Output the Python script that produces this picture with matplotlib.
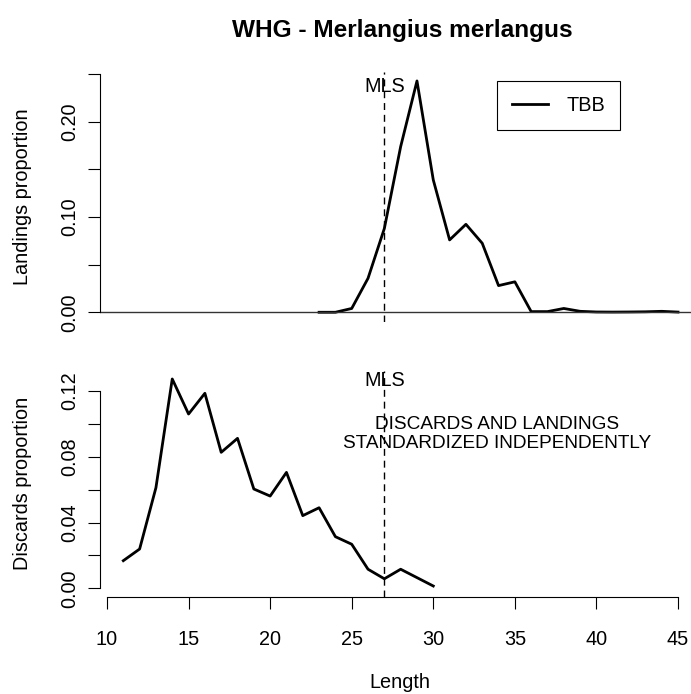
import matplotlib
matplotlib.use("Agg")
import matplotlib.pyplot as plt
import numpy as np

# ---- data ----
land_len = list(range(23, 46))
land_prop = [0.0, 0.0, 0.004, 0.0357, 0.088, 0.174, 0.243, 0.139, 0.076, 0.0924,
             0.0725, 0.028, 0.032, 0.0007, 0.0007, 0.004, 0.001, 0.0003, 0.0002,
             0.0003, 0.0005, 0.001, 0.0002]
disc_len = list(range(11, 31))
disc_prop = [0.0168, 0.0239, 0.0612, 0.1273, 0.106, 0.1186, 0.0827, 0.0912, 0.0604,
             0.0561, 0.0705, 0.0442, 0.049, 0.0314, 0.0268, 0.0116, 0.0058, 0.0116,
             0.0065, 0.0014]
mls = 27
top_ticks = [0.0, 0.05, 0.10, 0.15, 0.20, 0.25]
top_labels = ["0.00", "", "0.10", "", "0.20", ""]
bot_ticks = [0.0, 0.02, 0.04, 0.06, 0.08, 0.10, 0.12]
bot_labels = ["0.00", "", "0.04", "", "0.08", "", "0.12"]
x_ticks = [10, 15, 20, 25, 30, 35, 40, 45]
title = "WHG - Merlangius merlangus"
series_name = "TBB"
note = "DISCARDS AND LANDINGS\nSTANDARDIZED INDEPENDENTLY"

W, H = 691, 694
plt.rcParams['font.family'] = ['Liberation Sans', 'DejaVu Sans']
FS = 14.3
fig = plt.figure(figsize=(W / 100, H / 100), dpi=100)

def rect(l, t, r, b):
    return [l / W, 1 - b / H, (r - l) / W, (b - t) / H]

xlim = (10 - 7 / 16.33, 45 + 13 / 16.33)
TL = 8.7

# ---- top panel ----
ax1 = fig.add_axes(rect(100, 71.7, 691, 321.5))
ax1.plot(land_len, land_prop, color='black', lw=2, label=series_name)
ax1.set_xlim(*xlim)
ax1.set_ylim(-0.0097, 0.2527)
ax1.axhline(0, color='#333333', lw=1)
ax1.axvline(mls, color='black', lw=1, linestyle=(0, (5, 3.5)))
ax1.text(mls, 0.2375, "MLS", ha='center', va='center', fontsize=FS)
for s in ['top', 'right', 'bottom']:
    ax1.spines[s].set_visible(False)
ax1.spines['left'].set_bounds(0, 0.25)
ax1.set_yticks(top_ticks)
ax1.set_yticklabels(top_labels, rotation=90, va='center')
ax1.set_xticks([])
ax1.tick_params(axis='y', length=TL, width=0.8, pad=6.5, labelsize=FS)

leg = ax1.legend(loc='upper left', bbox_to_anchor=(497.3 / W, 1 - 81 / H),
                 bbox_transform=fig.transFigure, frameon=True, fancybox=False,
                 edgecolor='black', framealpha=1, fontsize=FS, handlelength=1.8,
                 handletextpad=0.95, borderpad=0.75, borderaxespad=0)
leg.get_frame().set_linewidth(0.8)

# ---- bottom panel ----
ax2 = fig.add_axes(rect(100, 370.6, 691, 596.7))
ax2.plot(disc_len, disc_prop, color='black', lw=2)
ax2.set_xlim(*xlim)
ax2.set_ylim(-0.0051, 0.1324)
ax2.axvline(mls, color='black', lw=1, linestyle=(0, (5, 3.5)))
ax2.text(mls, 0.1263, "MLS", ha='center', va='center', fontsize=FS)
ax2.text(33.9, 0.0939, note, ha='center', va='center', fontsize=13.65,
         linespacing=1.2)
for s in ['top', 'right']:
    ax2.spines[s].set_visible(False)
ax2.spines['left'].set_bounds(0, 0.12)
ax2.spines['bottom'].set_bounds(10, 45)
ax2.set_yticks(bot_ticks)
ax2.set_yticklabels(bot_labels, rotation=90, va='center')
ax2.set_xticks(x_ticks)
ax2.set_xticklabels([str(t) for t in x_ticks])
ax2.tick_params(axis='y', length=TL, width=0.8, pad=6.5, labelsize=FS)
ax2.tick_params(axis='x', length=TL, width=0.8, pad=15, labelsize=FS)
for ax in (ax1, ax2):
    for s in ax.spines.values():
        s.set_linewidth(0.8)

# ---- labels ----
fig.text(22.5 / W, 1 - 196.6 / H, "Landings proportion", rotation=90,
         ha='center', va='center', fontsize=FS)
fig.text(22.5 / W, 1 - 483.6 / H, "Discards proportion", rotation=90,
         ha='center', va='center', fontsize=FS)
fig.text(400 / W, 1 - 683 / H, "Length", ha='center', va='center', fontsize=FS)
fig.text(402 / W, 1 - 30 / H, title, ha='center', va='center',
         fontsize=17.6, fontweight='bold')

fig.savefig("out.png", dpi=100)
